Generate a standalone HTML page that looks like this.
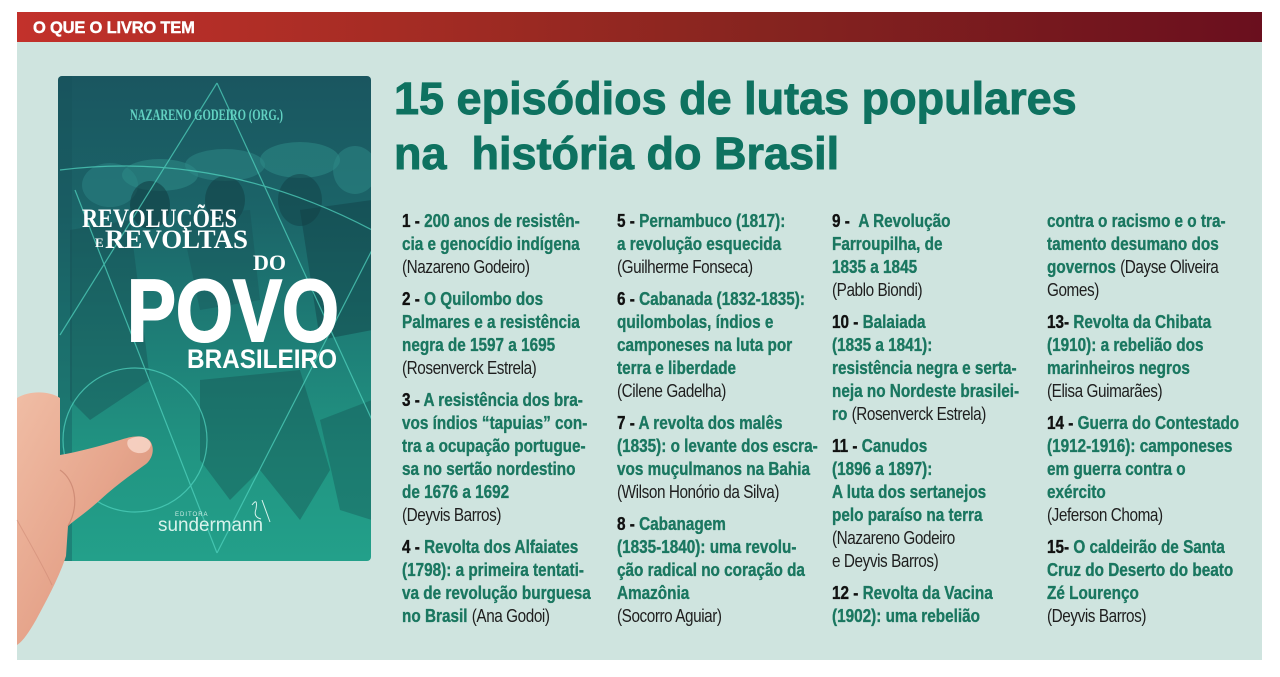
<!DOCTYPE html>
<html>
<head>
<meta charset="utf-8">
<style>
html,body{margin:0;padding:0;background:#fff;}
body{width:1280px;height:677px;position:relative;overflow:hidden;font-family:"Liberation Sans",sans-serif;}
.bar{position:absolute;left:17px;top:12px;width:1245px;height:30px;background:linear-gradient(90deg,#c2312b 0%,#a62c24 30%,#86241f 60%,#6a0f1e 100%);}
.bar span{position:absolute;left:16px;top:6px;color:#fff;font:bold 17px/19px "Liberation Sans",sans-serif;letter-spacing:-0.2px;-webkit-text-stroke:0.4px #fff;transform:scaleX(.97);transform-origin:0 0;white-space:nowrap;}
.panel{position:absolute;left:17px;top:42px;width:1245px;height:618px;background:#cfe4df;}
.title{position:absolute;left:394px;top:71px;font:bold 45px/55px "Liberation Sans",sans-serif;color:#0e7260;white-space:nowrap;-webkit-text-stroke:0.9px #0e7260;}
.col{position:absolute;top:210px;font:18px/23px "Liberation Sans",sans-serif;transform:scaleX(.85);transform-origin:0 0;white-space:nowrap;}
.col p{margin:0 0 9px 0;}
.col b{color:#1a7760;font-weight:bold;-webkit-text-stroke:0.35px #1a7760;}
.col b.n{color:#111;-webkit-text-stroke:0.35px #111;}
.col span{color:#1e1e1e;letter-spacing:-0.5px;}
svg{position:absolute;left:0;top:0;}
</style>
</head>
<body>
<div class="panel"></div>
<div class="bar"><span>O QUE O LIVRO TEM</span></div>

<svg width="1280" height="677" viewBox="0 0 1280 677">
<defs>
<linearGradient id="bk" x1="0" y1="0" x2="0" y2="1">
<stop offset="0" stop-color="#1a5660"/>
<stop offset="0.28" stop-color="#1b6468"/>
<stop offset="0.55" stop-color="#1e7f77"/>
<stop offset="0.8" stop-color="#219683"/>
<stop offset="1" stop-color="#23a08a"/>
</linearGradient>
<linearGradient id="sk" x1="0" y1="0" x2="1" y2="1">
<stop offset="0" stop-color="#f0bda5"/>
<stop offset="0.5" stop-color="#e6a58c"/>
<stop offset="1" stop-color="#cf8a73"/>
</linearGradient>
<clipPath id="bc"><rect x="58" y="76" width="313" height="485" rx="4"/></clipPath>
</defs>
<!-- book -->
<rect x="58" y="76" width="313" height="485" rx="4" fill="url(#bk)"/>
<g clip-path="url(#bc)">
<rect x="58" y="76" width="14" height="485" fill="#175159" opacity="0.35"/>
<!-- figures -->
<ellipse cx="110" cy="185" rx="28" ry="22" fill="#2a7f80" opacity="0.6"/>
<ellipse cx="160" cy="175" rx="38" ry="16" fill="#2d8a87" opacity="0.55"/>
<ellipse cx="225" cy="165" rx="40" ry="16" fill="#2d8a87" opacity="0.5"/>
<ellipse cx="300" cy="160" rx="40" ry="18" fill="#2d8a87" opacity="0.55"/>
<ellipse cx="355" cy="170" rx="22" ry="24" fill="#2d8a87" opacity="0.5"/>
<ellipse cx="150" cy="205" rx="20" ry="24" fill="#123f45" opacity="0.6"/>
<ellipse cx="225" cy="200" rx="20" ry="24" fill="#123f45" opacity="0.55"/>
<ellipse cx="300" cy="200" rx="22" ry="26" fill="#123f45" opacity="0.5"/>
<path d="M300,210 L372,200 L372,330 L320,340 Z" fill="#123f45" opacity="0.45"/>
<path d="M70,230 L130,220 L150,380 L90,420 L70,400 Z" fill="#164a50" opacity="0.4"/>
<path d="M180,215 L250,210 L260,300 L200,310 Z" fill="#164a50" opacity="0.3"/>
<path d="M200,380 L300,370 L330,470 L300,520 L260,470 L230,500 L200,460 Z" fill="#134448" opacity="0.35"/>
<path d="M320,420 L372,400 L372,520 L340,510 Z" fill="#154a4e" opacity="0.35"/>
<!-- lines -->
<g stroke="#4fd1bd" stroke-width="1.2" fill="none" opacity="0.75">
<path d="M217,83 L60,335"/>
<path d="M217,83 L372,420"/>
<path d="M217,553 L75,190"/>
<path d="M217,553 L372,250"/>
<path d="M60,170 Q220,150 372,230"/>
<circle cx="135" cy="440" r="72"/>
</g>
</g>
<text x="130" y="120" textLength="153" lengthAdjust="spacingAndGlyphs" font-family="Liberation Serif,serif" font-weight="bold" font-size="16" fill="#62d2c2">NAZARENO GODEIRO (ORG.)</text>
<g fill="#ffffff" font-weight="bold">
<text x="82" y="227" textLength="155" lengthAdjust="spacingAndGlyphs" font-family="Liberation Serif,serif" font-size="26">REVOLUÇÕES</text>
<text x="95" y="247" font-family="Liberation Serif,serif" font-size="13">E</text>
<text x="105" y="248" textLength="143" lengthAdjust="spacingAndGlyphs" font-family="Liberation Serif,serif" font-size="26">REVOLTAS</text>
<text x="253" y="270" textLength="33" lengthAdjust="spacingAndGlyphs" font-family="Liberation Serif,serif" font-size="22">DO</text>
<text x="127" y="341" textLength="212" lengthAdjust="spacingAndGlyphs" font-family="Liberation Sans,sans-serif" font-size="88" stroke="#ffffff" stroke-width="2">POVO</text>
<text x="187" y="368" textLength="150" lengthAdjust="spacingAndGlyphs" font-family="Liberation Sans,sans-serif" font-size="27">BRASILEIRO</text>
</g>
<text x="175" y="516" font-family="Liberation Sans,sans-serif" font-size="6" fill="#cfeee6" letter-spacing="1">EDITORA</text>
<text x="158" y="531" textLength="105" lengthAdjust="spacingAndGlyphs" font-family="Liberation Sans,sans-serif" font-size="19" fill="#d8f3ec">sundermann</text>
<path d="M252,505 q6,-8 4,4 q-3,8 5,10 M262,500 l8,22" stroke="#d8f3ec" stroke-width="1" fill="none"/>
<!-- hand -->
<path d="M17,398 C30,390 50,391 60,398 L60,455 C78,452 100,446 120,440 C132,436 144,434 150,441 C155,448 153,458 146,464 C132,474 115,486 100,500 C88,511 76,519 68,526 L66,556 C60,575 48,598 36,620 C28,634 22,642 17,645 Z" fill="url(#sk)"/>
<path d="M128,440 C138,434 148,436 151,444 C150,452 142,455 134,452 C128,449 126,444 128,440 Z" fill="#f6d3c4" opacity="0.9"/>
<path d="M60,470 C75,480 80,505 68,526" stroke="#c07a66" stroke-width="1.2" fill="none" opacity="0.6"/>
<path d="M17,520 C28,540 40,560 52,585" stroke="#c98470" stroke-width="1" fill="none" opacity="0.5"/>
</svg>

<div class="title">15 episódios de lutas populares<br>na&nbsp; história do Brasil</div>

<div class="col" style="left:402px">
<p><b class="n">1 - </b><b>200 anos de resistên-</b><br><b>cia e genocídio indígena</b><br><span>(Nazareno Godeiro)</span></p>
<p><b class="n">2 - </b><b>O Quilombo dos</b><br><b>Palmares e a resistência</b><br><b>negra de 1597 a 1695</b><br><span>(Rosenverck Estrela)</span></p>
<p><b class="n">3 - </b><b>A resistência dos bra-</b><br><b>vos índios “tapuias” con-</b><br><b>tra a ocupação portugue-</b><br><b>sa no sertão nordestino</b><br><b>de 1676 a 1692</b><br><span>(Deyvis Barros)</span></p>
<p><b class="n">4 - </b><b>Revolta dos Alfaiates</b><br><b>(1798): a primeira tentati-</b><br><b>va de revolução burguesa</b><br><b>no Brasil</b> <span>(Ana Godoi)</span></p>
</div>

<div class="col" style="left:617px">
<p><b class="n">5 - </b><b>Pernambuco (1817):</b><br><b>a revolução esquecida</b><br><span>(Guilherme Fonseca)</span></p>
<p><b class="n">6 - </b><b>Cabanada (1832-1835):</b><br><b>quilombolas, índios e</b><br><b>camponeses na luta por</b><br><b>terra e liberdade</b><br><span>(Cilene Gadelha)</span></p>
<p><b class="n">7 - </b><b>A revolta dos malês</b><br><b>(1835): o levante dos escra-</b><br><b>vos muçulmanos na Bahia</b><br><span>(Wilson Honório da Silva)</span></p>
<p><b class="n">8 - </b><b>Cabanagem</b><br><b>(1835-1840): uma revolu-</b><br><b>ção radical no coração da</b><br><b>Amazônia</b><br><span>(Socorro Aguiar)</span></p>
</div>

<div class="col" style="left:832px">
<p><b class="n">9 - &nbsp;</b><b>A Revolução</b><br><b>Farroupilha, de</b><br><b>1835 a 1845</b><br><span>(Pablo Biondi)</span></p>
<p><b class="n">10 - </b><b>Balaiada</b><br><b>(1835 a 1841):</b><br><b>resistência negra e serta-</b><br><b>neja no Nordeste brasilei-</b><br><b>ro</b> <span>(Rosenverck Estrela)</span></p>
<p><b class="n">11 - </b><b>Canudos</b><br><b>(1896 a 1897):</b><br><b>A luta dos sertanejos</b><br><b>pelo paraíso na terra</b><br><span>(Nazareno Godeiro</span><br><span>e Deyvis Barros)</span></p>
<p><b class="n">12 - </b><b>Revolta da Vacina</b><br><b>(1902): uma rebelião</b></p>
</div>

<div class="col" style="left:1047px">
<p><b>contra o racismo e o tra-</b><br><b>tamento desumano dos</b><br><b>governos</b> <span>(Dayse Oliveira</span><br><span>Gomes)</span></p>
<p><b class="n">13- </b><b>Revolta da Chibata</b><br><b>(1910): a rebelião dos</b><br><b>marinheiros negros</b><br><span>(Elisa Guimarães)</span></p>
<p><b class="n">14 - </b><b>Guerra do Contestado</b><br><b>(1912-1916): camponeses</b><br><b>em guerra contra o</b><br><b>exército</b><br><span>(Jeferson Choma)</span></p>
<p><b class="n">15- </b><b>O caldeirão de Santa</b><br><b>Cruz do Deserto do beato</b><br><b>Zé Lourenço</b><br><span>(Deyvis Barros)</span></p>
</div>
</body>
</html>
